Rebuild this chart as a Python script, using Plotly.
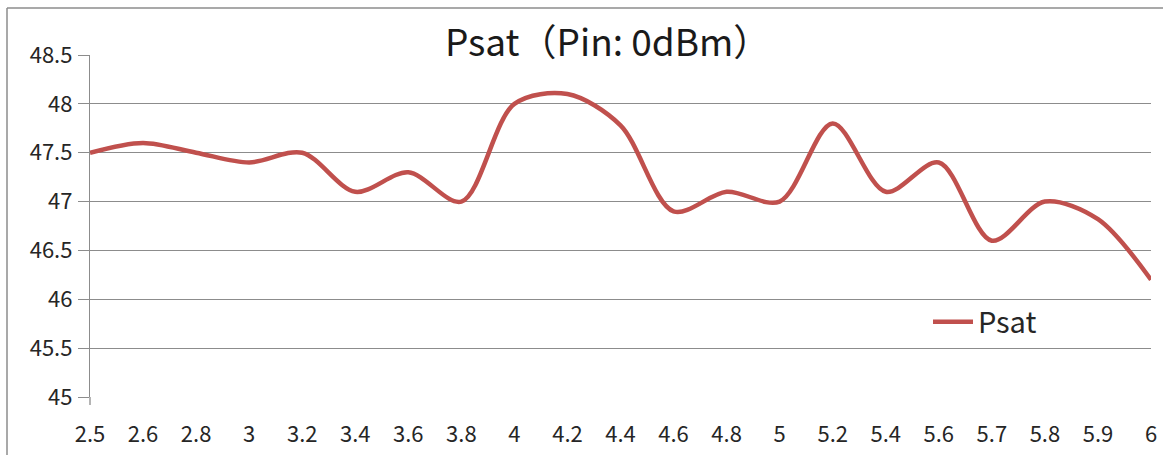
import plotly.graph_objects as go

freq_labels = ["2.5", "2.6", "2.8", "3", "3.2", "3.4", "3.6", "3.8", "4", "4.2", "4.4",
               "4.6", "4.8", "5", "5.2", "5.4", "5.6", "5.7", "5.8", "5.9", "6"]
psat = [47.5, 47.6, 47.5, 47.4, 47.5, 47.1, 47.3, 47.0, 48.0, 48.1, 47.78,
        46.9, 47.1, 47.0, 47.8, 47.1, 47.4, 46.6, 47.0, 46.82, 46.2]
y_ticks = [45, 45.5, 46, 46.5, 47, 47.5, 48, 48.5]
y_tick_text = ["45", "45.5", "46", "46.5", "47", "47.5", "48", "48.5"]

W, H = 1163, 455
L, R, T, B = 90, 12, 55, 58
pw, ph = W - L - R, H - T - B

def px_x(x):
    return (x - L) / pw

def px_y(y):
    return (H - B - y) / ph

FONT = "Noto Sans CJK SC, Noto Sans, sans-serif"

fig = go.Figure()
fig.add_trace(go.Scatter(
    x=list(range(len(freq_labels))), y=psat, mode="lines", name="Psat",
    line=dict(color="#C0504D", width=4.5, shape="spline", smoothing=0.9),
))

fig.update_layout(
    width=W, height=H,
    margin=dict(l=L, r=R, t=T, b=B),
    paper_bgcolor="white", plot_bgcolor="white",
    font=dict(family=FONT, color="#262626", size=22),
    showlegend=True,
    legend=dict(x=px_x(928), y=px_y(322), xanchor="left", yanchor="middle",
                bgcolor="rgba(0,0,0,0)", font=dict(size=29, color="#262626"),
                itemwidth=40),
    xaxis=dict(
        range=[0, len(freq_labels) - 1], automargin=False,
        tickmode="array", tickvals=list(range(len(freq_labels))), ticktext=freq_labels,
        showgrid=False, zeroline=False, showline=False, ticks="",
        ticklabelstandoff=22, tickfont=dict(size=22, color="#262626"),
    ),
    yaxis=dict(
        range=[45, 48.5], automargin=False,
        tickmode="array", tickvals=y_ticks, ticktext=y_tick_text,
        showgrid=True, gridcolor="#8c8c8c", gridwidth=1.3, zeroline=False,
        showline=True, linecolor="#8c8c8c", linewidth=1.3,
        ticks="outside", ticklen=11, tickcolor="#8c8c8c", tickwidth=1.3,
        tickfont=dict(size=22, color="#262626"), ticklabelstandoff=1,
    ),
    annotations=[dict(
        text="Psat（Pin: 0dBm）", x=px_x(607), y=px_y(40), xref="paper", yref="paper",
        xanchor="center", yanchor="middle", showarrow=False,
        font=dict(size=37, color="#1a1a1a", family=FONT),
    )],
    shapes=[
        dict(type="line", xref="paper", yref="paper", x0=px_x(7), x1=px_x(1163),
             y0=px_y(8), y1=px_y(8), line=dict(color="#8c8c8c", width=1.5)),
        dict(type="line", xref="paper", yref="paper", x0=px_x(7), x1=px_x(7),
             y0=px_y(8), y1=px_y(455), line=dict(color="#8c8c8c", width=1.5)),
        dict(type="line", xref="paper", yref="paper", x0=0, x1=0,
             y0=0, y1=px_y(405), line=dict(color="#8c8c8c", width=1.3)),
    ],
)

fig.write_html("out.html", config={"displayModeBar": False},
               post_script="document.body.style.margin='0';")
